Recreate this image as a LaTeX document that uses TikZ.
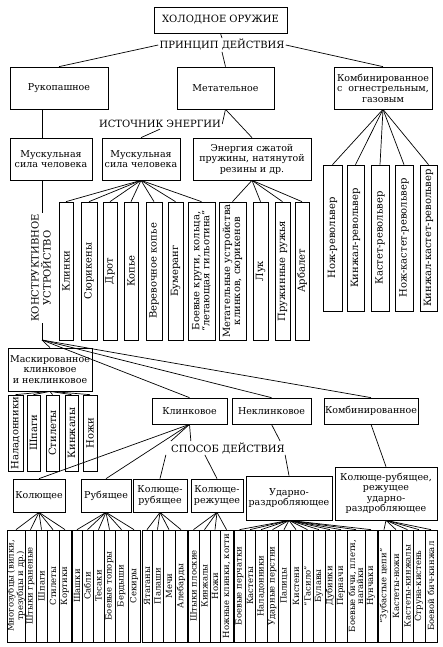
\documentclass[tikz,border=0pt]{standalone}
\usepackage{fontspec}
\setmainfont{DejaVu Serif}
\usepackage{tikz}
\tikzstyle{box}=[draw, line width=.7pt, align=center, inner sep=1pt, font=\fontsize{9.5}{10.5}\selectfont]
\tikzstyle{heading}=[inner sep=1pt, font=\fontsize{10}{12}\selectfont]
\tikzstyle{slat}=[draw, line width=.7pt, rotate=90, align=center, inner sep=0pt, font=\fontsize{10}{10}\selectfont]
\tikzstyle{lowslat}=[slat, minimum width=112, font=\fontsize{8.5}{8}\selectfont]

\begin{document}
\begin{tikzpicture}[x=1pt, y=-1pt, line width=.7pt]
    \useasboundingbox (0,0) rectangle (443,647);

    % principle of action
    \node[box, font=\fontsize{10}{12}\selectfont, minimum width=133, minimum height=26] (weapon) at (220.5,20) {ХОЛОДНОЕ ОРУЖИЕ};
    \node[heading] (principle) at (222,45) {ПРИНЦИП ДЕЙСТВИЯ};
    \node[box, minimum width=98, minimum height=42] (hand) at (59,88) {Рукопашное};
    \node[box, minimum width=97, minimum height=42] (throw) at (225.5,88) {Метательное};
    \node[box, minimum width=98, minimum height=42] (comb) at (383,88) {Комбинированное\\с\ \ огнестрельным,\\газовым};
    \draw (weapon.south) -- (principle.north);
    \draw (principle.west) -- (hand.north);
    \draw (principle.south) -- (throw.north);
    \draw (principle.east) -- (comb.north);

    % source of energy
    \node[heading] (energy) at (160,124) {ИСТОЧНИК ЭНЕРГИИ};
    \node[box, minimum width=82, minimum height=42] (muscle1) at (51,159) {Мускульная\\сила человека};
    \node[box, minimum width=78, minimum height=42] (muscle2) at (141,159) {Мускульная\\сила человека};
    \node[box, minimum width=118, minimum height=42] (spring) at (252,159) {Энергия сжатой\\пружины, натянутой\\резины и др.};
    \draw (throw.south) -- (energy.east);
    \draw (throw.south) -- (spring.north);
    \draw (energy.south) -- (muscle2.north);

    \node[slat, minimum width=138, minimum height=14] (blades) at (66,271) {Клинки};
    \node[slat, minimum width=138, minimum height=16] (shuriken) at (89,271) {Сюрикены};
    \node[slat, minimum width=138, minimum height=14] (dart) at (110,271) {Дрот};
    \node[slat, minimum width=138, minimum height=14] (spear) at (131,271) {Копье};
    \node[slat, minimum width=138, minimum height=16] (ropespear) at (154,271) {Веревочное копье};
    \node[slat, minimum width=138, minimum height=15] (boomerang) at (175.5,271) {Бумеранг};
    \node[slat, minimum width=138, minimum height=27] (rings) at (201.5,271) {Боевые круги, кольца,\\“летающая гильотина”};
    \node[slat, minimum width=138, minimum height=27] (launcher) at (232.5,271) {Метательные устройства\\клинков, сюрикенов};
    \node[slat, minimum width=138, minimum height=15] (bow) at (260.5,271) {Лук};
    \node[slat, minimum width=138, minimum height=15] (springgun) at (282.5,271) {Пружинные ружья};
    \node[slat, minimum width=138, minimum height=14] (crossbow) at (302,271) {Арбалет};
    \foreach \n in {blades,shuriken,dart,spear,ropespear,boomerang,rings}
        \draw (muscle2.south) -- (\n.east);
    \foreach \n in {launcher,bow,springgun,crossbow}
        \draw (spring.south) -- (\n.east);

    % combined with firearms
    \node[slat, minimum width=146, minimum height=19] (knifegun) at (332.5,238) {Нож-револьвер};
    \node[slat, minimum width=146, minimum height=17] (daggergun) at (355.5,238) {Кинжал-револьвер};
    \node[slat, minimum width=146, minimum height=18] (knucklegun) at (380,238) {Кастет-револьвер};
    \node[slat, minimum width=146, minimum height=18] (knifeknucklegun) at (404,238) {Нож-кастет-револьвер};
    \node[slat, minimum width=146, minimum height=17] (daggerknucklegun) at (428.5,238) {Кинжал-кастет-револьвер};
    \foreach \n in {knifegun,daggergun,knucklegun,knifeknucklegun,daggerknucklegun}
        \draw (comb.south) -- (\n.east);

    % design
    \coordinate (dpt) at (42,340);
    \node[heading, rotate=90, align=center] (design) at (41,268) {КОНСТРУКТИВНОЕ\\УСТРОЙСТВО};
    \draw (hand.south -| dpt) -- (muscle1.north -| dpt);
    \draw (muscle1.south -| dpt) -- (design.east -| dpt);
    \draw (design.west -| dpt) -- (dpt);

    \node[box, minimum width=84, minimum height=43] (masked) at (50,369.5) {Маскированное\\клинковое\\и неклинковое};
    \node[box, minimum width=75, minimum height=26] (blade) at (189.5,411) {Клинковое};
    \node[box, minimum width=79, minimum height=26] (noblade) at (271.5,411) {Неклинковое};
    \node[box, minimum width=94, minimum height=26] (combo) at (371,411) {Комбинированное};
    \foreach \n in {masked,blade,noblade,combo}
        \draw (dpt) -- (\n.north);

    \node[slat, minimum width=76, minimum height=15] (mpalm) at (15.5,433) {Наладонники};
    \node[slat, minimum width=76, minimum height=13] (mrapier) at (33.5,433) {Шпаги};
    \node[slat, minimum width=76, minimum height=13] (mstiletto) at (52.5,433) {Стилеты};
    \node[slat, minimum width=76, minimum height=13] (mdagger) at (71.5,433) {Кинжалы};
    \node[slat, minimum width=76, minimum height=14] (mknife) at (90,433) {Ножи};
    \foreach \n in {mpalm,mrapier,mstiletto,mdagger,mknife}
        \draw (masked.south) -- (\n.east);

    % mode of action
    \node[heading] (action) at (228,448) {СПОСОБ ДЕЙСТВИЯ};
    \node[box, minimum width=52, minimum height=33] (stab) at (39,495.5) {Колющее};
    \node[box, minimum width=50, minimum height=33] (chop) at (106,495.5) {Рубящее};
    \node[box, minimum width=54, minimum height=33] (stabchop) at (160,495.5) {Колюще-\\рубящее};
    \node[box, minimum width=52, minimum height=33] (stabcut) at (217,495.5) {Колюще-\\режущее};
    \node[box, minimum width=86, minimum height=44] (crush) at (289,498) {Ударно-\\раздробляющее};
    \node[box, minimum width=102, minimum height=53] (mixed) at (386,493.5) {Колюще-рубящее,\\режущее\\ударно-\\раздробляющее};
    \draw (blade.south) -- (stab.north);
    \draw (blade.south) -- (chop.north);
    \draw (blade.south) -- ([xshift=1pt]action.north west);
    \draw (blade.south) -- ([xshift=21pt]action.north west);
    \draw ([xshift=-4pt]action.south west) -- (stabchop.north);
    \draw ([xshift=35pt]action.south west) -- (stabcut.north);
    \draw (noblade.south) -- ([xshift=-6pt]action.north east);
    \draw ([xshift=-1pt]action.south east) -- (crush.north);
    \draw (combo.south) -- (mixed.north);

    % stabbing
    \node[lowslat, minimum height=18] (trident) at (16,586) {Многозубцы (вилки,\\трезубцы и др.)};
    \node[lowslat, minimum height=11] (bayonet) at (30.5,586) {Штыки граненые};
    \node[lowslat, minimum height=11] (rapier) at (41.5,586) {Шпаги};
    \node[lowslat, minimum height=12] (stiletto) at (53,586) {Стилеты};
    \node[lowslat, minimum height=12] (dirk) at (65,586) {Кортики};
    \foreach \n in {trident,bayonet,rapier,stiletto,dirk}
        \draw (stab.south) -- (\n.east);

    % chopping
    \node[lowslat, minimum height=10] (shashka) at (77,586) {Шашки};
    \node[lowslat, minimum height=11] (sabre) at (87.5,586) {Сабли};
    \node[lowslat, minimum height=11] (cutlass) at (98.5,586) {Тесаки};
    \node[lowslat, minimum height=11] (axe) at (109.5,586) {Боевые топоры};
    \node[lowslat, minimum height=13] (berdish) at (121.5,586) {Бердыши};
    \node[lowslat, minimum height=12] (poleaxe) at (134,586) {Секиры};
    \foreach \n in {shashka,sabre,cutlass,axe,berdish,poleaxe}
        \draw (chop.south) -- (\n.east);

    % stabbing-chopping
    \node[lowslat, minimum height=10] (yatagan) at (147,586) {Ятаганы};
    \node[lowslat, minimum height=11] (broadsword) at (157.5,586) {Палаши};
    \node[lowslat, minimum height=12] (sword) at (169,586) {Мечи};
    \node[lowslat, minimum height=12] (halberd) at (181,586) {Алебарды};
    \foreach \n in {yatagan,broadsword,sword,halberd}
        \draw (stabchop.south) -- (\n.east);

    % stabbing-cutting
    \node[lowslat, minimum height=11] (flatbayonet) at (193.5,586) {Штыки плоские};
    \node[lowslat, minimum height=11] (dagger) at (204.5,586) {Кинжалы};
    \node[lowslat, minimum height=10] (knife) at (215,586) {Ножи};
    \node[lowslat, minimum height=13] (claws) at (226.5,586) {Ножные клинки, когти};
    \foreach \n in {flatbayonet,dagger,knife,claws}
        \draw (stabcut.south) -- (\n.east);

    % crushing
    \node[lowslat, minimum height=11] (gauntlet) at (239.5,586) {Боевые перчатки};
    \node[lowslat, minimum height=10] (knuckles) at (250,586) {Кастеты};
    \node[lowslat, minimum height=12] (palmstick) at (261,586) {Наладонники};
    \node[lowslat, minimum height=11] (fistring) at (272.5,586) {Ударные перстни};
    \node[lowslat, minimum height=12] (club) at (284,586) {Палицы};
    \node[lowslat, minimum height=12] (flail) at (296,586) {Кистени};
    \node[lowslat, minimum height=11] (gasilo) at (307.5,586) {“Гасило”};
    \node[lowslat, minimum height=12] (mace) at (319,586) {Булавы};
    \node[lowslat, minimum height=10] (cudgel) at (330,586) {Дубинки};
    \node[lowslat, minimum height=12] (pernach) at (341,586) {Перначи};
    \node[lowslat, minimum height=18] (whip) at (356,586) {Боевые бичи, плети,\\нагайки};
    \node[lowslat, minimum height=12] (nunchaku) at (371,586) {Нунчаки};
    \foreach \n in {gauntlet,knuckles,palmstick,fistring,club,flail,gasilo,mace,cudgel,pernach,whip,nunchaku}
        \draw (crush.south) -- (\n.east);

    % mixed
    \node[lowslat, minimum height=12] (chain) at (384,586) {“Зубастые цепи”};
    \node[lowslat, minimum height=12] (knuckknife) at (396,586) {Кастеты-ножи};
    \node[lowslat, minimum height=11] (knuckdagger) at (407.5,586) {Кастеты-кинжалы};
    \node[lowslat, minimum height=12] (wireflail) at (419,586) {Струна-кистень};
    \node[lowslat, minimum height=12] (whipdagger) at (431,586) {Боевой бич-кинжал};
    \foreach \n in {chain,knuckknife,knuckdagger,wireflail,whipdagger}
        \draw (mixed.south) -- (\n.east);
\end{tikzpicture}
\end{document}
